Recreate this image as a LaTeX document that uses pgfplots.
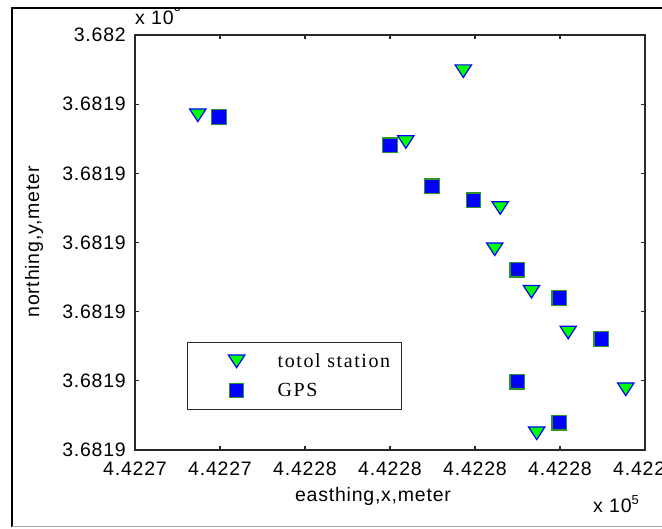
\documentclass[border=0pt]{standalone}
\usepackage{pgfplots}
\pgfplotsset{compat=1.18}
\usepackage{fontspec}
\setmainfont{Liberation Serif}
\newfontfamily\sansf[LetterSpace=4]{Liberation Sans}
\newfontfamily\seriff[LetterSpace=8]{Liberation Serif}
\definecolor{mgreen}{RGB}{0,255,0}
\definecolor{mblue}{RGB}{0,0,255}
\definecolor{sqedge}{RGB}{40,150,40}
\definecolor{axcol}{RGB}{40,40,40}
\pgfdeclareplotmark{dtri}{%
  \pgfpathmoveto{\pgfqpoint{-8.2pt}{6.3pt}}%
  \pgfpathlineto{\pgfqpoint{8.2pt}{6.3pt}}%
  \pgfpathlineto{\pgfqpoint{0pt}{-6.3pt}}%
  \pgfpathclose\pgfusepathqfillstroke}
\newcommand{\tickfont}{\fontsize{19.5}{19.5}\sansf}

\begin{document}
\begin{tikzpicture}
\begin{axis}[
  at={(135pt,79pt)}, anchor=south west,
  scale only axis, width=510pt, height=415pt,
  xmin=0, xmax=12, ymin=0, ymax=12,
  xtick={0,2,4,6,8,10,12}, ytick={0,2,4,6,8,10,12},
  xticklabels={4.4227,4.4227,4.4228,4.4228,4.4228,4.4228,4.4229},
  yticklabels={3.6819,3.6819,3.6819,3.6819,3.6819,3.6819,3.682},
  tick align=inside, major tick length=4pt,
  axis line style={axcol, line width=1.2pt},
  tick style={axcol, line width=1.2pt},
  xticklabel style={font=\tickfont, inner sep=0pt, anchor=north, yshift=-12pt},
  yticklabel style={font=\tickfont, inner sep=0pt, anchor=east, xshift=-9pt},
  legend style={at={(rel axis cs:0.102,0.0964)}, anchor=south west,
    draw=axcol, line width=1.2pt, inner xsep=11pt, inner ysep=4.5pt,
    row sep=0pt, font=\fontsize{20}{20}\seriff, cells={anchor=west},
    nodes={inner sep=0pt}},
  legend image code/.code={%
    \path[draw=none, fill=none] (0pt,-14.5pt) rectangle (79pt,14.5pt);
    \draw[#1] plot coordinates {(38pt,0pt)};},
]
\addplot[only marks, mark=dtri,
  mark options={draw=mblue, fill=mgreen, line width=1.2pt}] coordinates {
  (1.478,9.678) (7.725,10.953) (6.372,8.906) (8.593,6.998) (8.464,5.806)
  (9.329,4.577) (10.193,3.398) (11.548,1.755) (9.452,0.483)};
\addlegendentry{totol station}
\addplot[only marks, mark=square*, mark size=7.3pt,
  mark options={draw=sqedge, fill=mblue, line width=1.1pt}] coordinates {
  (1.972,9.629) (6.0,8.811) (6.984,7.625) (7.965,7.220) (8.995,5.214)
  (9.984,4.395) (10.972,3.210) (8.995,1.975) (9.984,0.789)};
\addlegendentry{GPS}
\end{axis}
% axis labels
\node[anchor=base, inner sep=0pt, font=\tickfont] at (373pt,27pt) {easthing,x,meter};
\node[anchor=base, rotate=90, inner sep=0pt, font=\tickfont] at (39pt,287pt) {northing,y,meter};
% exponents
\begin{scope}
  \clip (12pt,0pt) rectangle (700pt,520.5pt);
  \node[anchor=base west, inner sep=0pt, font=\tickfont] at (135pt,504pt)
    {x 10\raisebox{13pt}{\fontsize{13}{13}\sansf 6}};
\end{scope}
\node[anchor=base west, inner sep=0pt, font=\tickfont] at (593pt,16pt)
  {x 10\raisebox{8pt}{\fontsize{13}{13}\sansf 5}};
% figure frame
\draw[black, line width=1.5pt] (12pt,2pt) -- (12pt,521pt) -- (700pt,521pt);
\draw[black!35, line width=1pt] (12pt,2pt) -- (700pt,2pt);
\pgfresetboundingbox
\useasboundingbox (0pt,0pt) rectangle (662pt,529pt);
\end{tikzpicture}
\end{document}
